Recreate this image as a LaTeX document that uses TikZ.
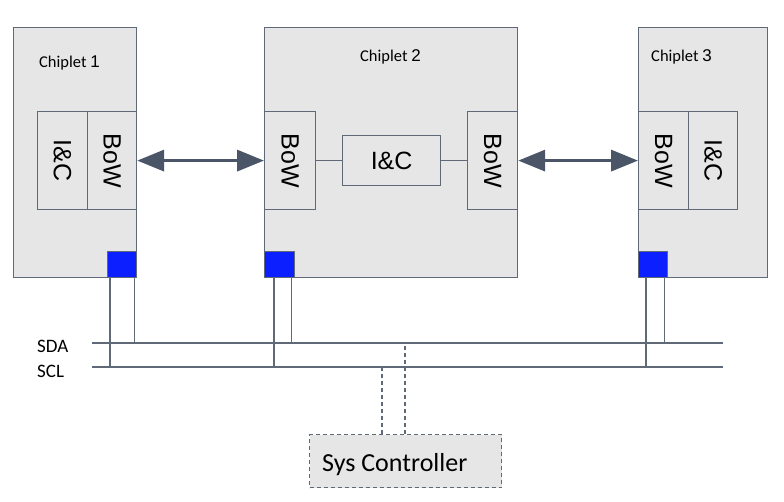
\documentclass[tikz,border=0pt]{standalone}
\usepackage{fontspec}
\setmainfont{Carlito}
\newfontfamily\arialf{Liberation Sans}
\usetikzlibrary{arrows.meta,calc}
\definecolor{chipfill}{RGB}{230,230,230}
\definecolor{linec}{RGB}{95,105,120}
\definecolor{arrowc}{RGB}{74,86,104}
\definecolor{padc}{RGB}{12,32,255}
\begin{document}
\begin{tikzpicture}[x=1pt,y=-1pt,
  box/.style={draw=linec, fill=chipfill, line width=1.2pt, inner sep=0pt, anchor=north west, rectangle},
  pad/.style={draw=linec, fill=padc, line width=1.2pt, inner sep=0pt, anchor=north west, rectangle},
  wire/.style={draw=linec, line width=1.2pt},
  dwire/.style={draw=linec, line width=1.2pt, dash pattern=on 4pt off 3pt},
  bigarrow/.style={draw=arrowc, line width=3.5pt, {Triangle[length=27pt,width=21pt]}-{Triangle[length=27pt,width=21pt]}, color=arrowc},
  vtext/.style={rotate=-90, font=\arialf\fontsize{25}{25}\selectfont, inner sep=0pt},
  htext/.style={font=\arialf\fontsize{25}{25}\selectfont, inner sep=0pt},
  chiplab/.style={anchor=base west, inner sep=0pt, font=\fontsize{16.5}{16.5}\selectfont},
  buslab/.style={anchor=west, inner sep=0pt, font=\fontsize{19}{19}\selectfont}
]
\useasboundingbox (0,0) rectangle (784,502);

% Chiplet 1
\node[box, minimum width=123pt, minimum height=250pt] (c1) at (13,27) {};
\node[box, minimum width=50pt, minimum height=98pt] (c1ic) at (37,111) {};
\node[box, minimum width=49pt, minimum height=98pt] (c1bow) at (87,111) {};
\node[vtext] (c1ict) at (c1ic.center) {I\&C};
\node[vtext] (c1bowt) at (c1bow.center) {BoW};
\node[pad, minimum width=29pt, minimum height=26pt] (c1pad) at (107,251) {};
\node[chiplab] (c1lab) at (39,68) {Chiplet {\arialf\fontsize{17}{17}\selectfont 1}};

% Chiplet 2
\node[box, minimum width=253pt, minimum height=250pt] (c2) at (264,27) {};
\node[box, minimum width=51pt, minimum height=98pt] (c2bowl) at (264,111) {};
\node[box, minimum width=98pt, minimum height=50pt] (c2ic) at (342,135) {};
\node[box, minimum width=50pt, minimum height=98pt] (c2bowr) at (467,111) {};
\node[vtext] (c2bowlt) at (c2bowl.center) {BoW};
\node[vtext] (c2bowrt) at (c2bowr.center) {BoW};
\node[htext] (c2ict) at (c2ic.center) {I\&C};
\node[pad, minimum width=30pt, minimum height=26pt] (c2pad) at (264,251) {};
\node[chiplab] (c2lab) at (360,62) {Chiplet {\arialf\fontsize{17}{17}\selectfont 2}};
\draw[wire] (c2bowl.east) -- (c2ic.west);
\draw[wire] (c2ic.east) -- (c2bowr.west);

% Chiplet 3
\node[box, minimum width=129pt, minimum height=250pt] (c3) at (638,27) {};
\node[box, minimum width=50pt, minimum height=98pt] (c3bow) at (638,111) {};
\node[box, minimum width=49pt, minimum height=98pt] (c3ic) at (688,111) {};
\node[vtext] (c3bowt) at (c3bow.center) {BoW};
\node[vtext] (c3ict) at (c3ic.center) {I\&C};
\node[pad, minimum width=29pt, minimum height=26pt] (c3pad) at (638,251) {};
\node[chiplab] (c3lab) at (651,62) {Chiplet {\arialf\fontsize{17}{17}\selectfont 3}};

% Arrows
\draw[bigarrow] (c1bow.east) -- (c2bowl.west);
\draw[bigarrow] (c2bowr.east) -- (c3bow.west);

% Bus
\coordinate (sdaL) at (92,343);
\coordinate (sdaR) at (723,343);
\coordinate (sclL) at (92,367);
\coordinate (sclR) at (723,367);
\draw[wire] (sdaL) -- (sdaR);
\draw[wire] (sclL) -- (sclR);
\node[buslab] (sdalab) at (37,346) {SDA};
\node[buslab] (scllab) at (37,371) {SCL};

% Pad wires
\draw[wire] ([xshift=3pt]c1pad.south west) -- ([xshift=3pt]c1pad.south west |- sclL);
\draw[wire] ([xshift=-3pt]c1pad.south east) -- ([xshift=-3pt]c1pad.south east |- sdaL);
\draw[wire] ([xshift=10pt]c2pad.south west) -- ([xshift=10pt]c2pad.south west |- sclL);
\draw[wire] ([xshift=-4pt]c2pad.south east) -- ([xshift=-4pt]c2pad.south east |- sdaL);
\draw[wire] ([xshift=8pt]c3pad.south west) -- ([xshift=8pt]c3pad.south west |- sclL);
\draw[wire] ([xshift=-4pt]c3pad.south east) -- ([xshift=-4pt]c3pad.south east |- sdaL);

% Sys controller
\node[box, dwire, fill=chipfill, minimum width=192pt, minimum height=53pt] (sys) at (309,434) {};
\node[anchor=base west, inner sep=0pt, font=\fontsize{26}{26}\selectfont] (syst) at (322,471) {Sys Controller};
\draw[dwire] (sys.north -| 405,0) -- (sdaL -| 405,0);
\draw[dwire] (sys.north -| 382,0) -- (sclL -| 382,0);
\end{tikzpicture}
\end{document}
